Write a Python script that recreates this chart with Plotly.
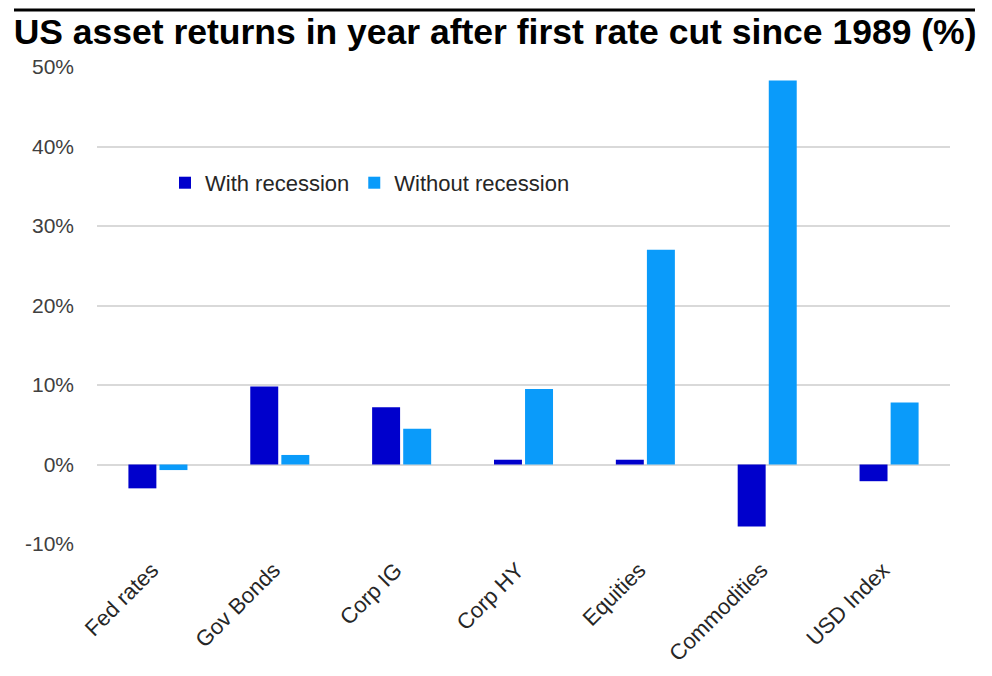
import plotly.graph_objects as go

categories = ["Fed rates", "Gov Bonds", "Corp IG", "Corp HY", "Equities", "Commodities", "USD Index"]
with_recession = [-3.0, 9.8, 7.2, 0.6, 0.6, -7.8, -2.1]
without_recession = [-0.7, 1.2, 4.5, 9.5, 27.0, 48.3, 7.8]
y_ticks = [-10, 0, 10, 20, 30, 40, 50]
y_tick_labels = ["-10%", "0%", "10%", "20%", "30%", "40%", "50%"]

fig = go.Figure()
fig.add_trace(go.Bar(name="With recession", x=categories, y=with_recession,
                     marker=dict(color="#0000CC", line=dict(width=0))))
fig.add_trace(go.Bar(name="Without recession", x=categories, y=without_recession,
                     marker=dict(color="#0A9BFA", line=dict(width=0))))

fig.update_layout(
    width=992, height=676,
    paper_bgcolor="white", plot_bgcolor="white",
    margin=dict(l=89, r=50, t=59, b=140),
    barmode="group", bargap=0.49, bargroupgap=0.1,
    title=dict(text="<b>US asset returns in year after first rate cut since 1989 (%)</b>",
               xref="container", yref="container",
               x=0.491, xanchor="center", y=0.9645, yanchor="middle",
               font=dict(family="Liberation Sans, Arial", size=35.5, color="black")),
    legend=dict(orientation="h", x=0.0797, y=0.757, xanchor="left", yanchor="middle",
                font=dict(family="Liberation Sans, Arial", size=22, color="#262626"),
                bgcolor="rgba(0,0,0,0)", traceorder="normal"),
    font=dict(family="Liberation Sans, Arial", size=18, color="#404040"),
    shapes=[dict(type="line", xref="paper", yref="paper", x0=-0.0973, x1=1.0293,
                 y0=1.1195, y1=1.1195, line=dict(color="black", width=3))],
)
fig.update_xaxes(showgrid=False, showline=False, ticks="", tickangle=-45,
                 ticklabelstandoff=8, ticklabelshift=-6,
                 tickfont=dict(size=22, color="#262626"))
fig.update_yaxes(range=[-10, 50], tickvals=y_ticks, ticktext=y_tick_labels,
                 showgrid=True, gridcolor="#D9D9D9", gridwidth=2,
                 zeroline=True, zerolinecolor="#D9D9D9", zerolinewidth=2,
                 showline=False, ticks="", ticklabelstandoff=22,
                 tickfont=dict(size=21, color="#404040"))

fig.write_html("out.html")
